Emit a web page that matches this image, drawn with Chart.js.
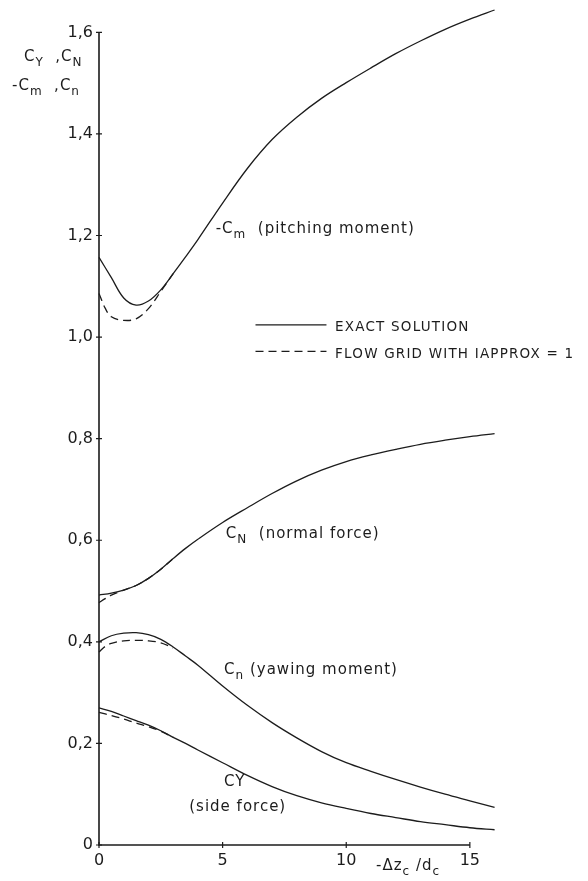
<!DOCTYPE html>
<html>
<head>
<meta charset="utf-8">
<script src="https://cdn.jsdelivr.net/npm/chart.js@4/dist/chart.umd.min.js"></script>
<style>
  html, body { margin: 0; padding: 0; background: #fff; }
  #wrap { width: 588px; height: 881px; position: relative; }
</style>
</head>
<body>
<div id="wrap"><canvas id="chart"></canvas></div>
<script>
// axis ticks
const xTicks = [0, 5, 10, 15];
const yTicks = [0, 0.2, 0.4, 0.6, 0.8, 1.0, 1.2, 1.4, 1.6];

// exact solution, -dz/d
const xExact = [0, 0.5, 1, 1.5, 2, 2.5, 3, 3.5, 4, 5, 6, 7, 8, 9, 10, 11, 12, 13, 14, 15, 16];
const cmExact = [1.157, 1.117, 1.077, 1.063, 1.071, 1.093, 1.125, 1.158, 1.192, 1.264, 1.332, 1.389, 1.433, 1.470, 1.501, 1.530, 1.558, 1.583, 1.606, 1.626, 1.644];
const cNExact = [0.492, 0.496, 0.502, 0.511, 0.525, 0.543, 0.564, 0.584, 0.602, 0.635, 0.664, 0.692, 0.717, 0.738, 0.755, 0.768, 0.779, 0.789, 0.797, 0.804, 0.810];
const cnExact = [0.400, 0.412, 0.417, 0.418, 0.414, 0.405, 0.390, 0.372, 0.354, 0.313, 0.275, 0.241, 0.211, 0.184, 0.162, 0.145, 0.129, 0.114, 0.100, 0.087, 0.074];
const cyExact = [0.270, 0.263, 0.254, 0.245, 0.236, 0.225, 0.212, 0.200, 0.187, 0.162, 0.137, 0.115, 0.097, 0.083, 0.072, 0.062, 0.054, 0.046, 0.040, 0.034, 0.030];

// flow grid with IAPPROX = 1 (only differs near the origin)
const xGrid = [0, 0.25, 0.5, 1, 1.5, 2, 2.5, 3];
const cmGrid = [1.086, 1.057, 1.040, 1.033, 1.036, 1.056, 1.090, 1.125];
const cNGrid = [0.477, 0.485, 0.492, 0.502, 0.511, 0.525, 0.543, 0.564];
const cnGrid = [0.380, 0.391, 0.397, 0.402, 0.403, 0.402, 0.398, 0.388];
const cyGrid = [0.261, 0.258, 0.255, 0.248, 0.240, 0.233, 0.224, 0.212];

const INK = '#1c1c1c';
const FONT = '"DejaVu Sans"';

function pts(xs, ys) {
    return xs.map((x, i) => ({ x: x, y: ys[i] }));
}

function line(xs, ys, dashed) {
    return {
        data: pts(xs, ys),
        borderColor: INK,
        borderWidth: 1.3,
        borderDash: dashed ? [8, 5] : [],
        pointRadius: 0,
        tension: 0.35,
        clip: false,
        fill: false
    };
}

// text with subscripts, parts = [[text, isSub], ...]
function rich(ctx, parts, x, y, size) {
    let cx = x;
    for (const [t, sub] of parts) {
        const fs = sub ? Math.round(size * 0.78) : size;
        ctx.font = fs + 'px ' + FONT;
        ctx.fillText(t, cx, y + (sub ? size * 0.4 : 0));
        cx += ctx.measureText(t).width;
    }
}

const labels = [
    { x: 4.72, y: 1.213, parts: [['-C', 0], ['m', 1], ['  (pitching moment)', 0]] },
    { x: 5.13, y: 0.613, parts: [['C', 0], ['N', 1], ['  (normal force)', 0]] },
    { x: 5.06, y: 0.344, parts: [['C', 0], ['n', 1], [' (yawing moment)', 0]] },
    { x: 5.06, y: 0.124, parts: [['CY', 0]] },
    { x: 3.65, y: 0.075, parts: [['(side force)', 0]] }
];

const legendItems = [
    { text: 'EXACT SOLUTION', dashed: false, y: 1.024 },
    { text: 'FLOW GRID WITH IAPPROX = 1', dashed: true, y: 0.972 }
];

const decorations = {
    id: 'decorations',
    afterDraw(chart) {
        const ctx = chart.ctx;
        const xs = chart.scales.x, ys = chart.scales.y;
        const x0 = xs.getPixelForValue(0), y0 = ys.getPixelForValue(0);
        ctx.save();
        ctx.strokeStyle = INK;
        ctx.fillStyle = INK;

        // axes, drawn only over the ticked range
        ctx.lineWidth = 1.6;
        ctx.beginPath();
        ctx.moveTo(x0, ys.getPixelForValue(yTicks[yTicks.length - 1]));
        ctx.lineTo(x0, y0);
        ctx.lineTo(xs.getPixelForValue(xTicks[xTicks.length - 1]), y0);
        ctx.stroke();
        ctx.lineWidth = 1.2;
        ctx.beginPath();
        yTicks.forEach(v => {
            const p = ys.getPixelForValue(v);
            ctx.moveTo(x0 - 3, p); ctx.lineTo(x0 + 3, p);
        });
        xTicks.forEach(v => {
            const p = xs.getPixelForValue(v);
            ctx.moveTo(p, y0 - 3); ctx.lineTo(p, y0 + 3);
        });
        ctx.stroke();

        // curve labels
        ctx.textBaseline = 'middle';
        ctx.letterSpacing = '1px';
        labels.forEach(l => rich(ctx, l.parts, xs.getPixelForValue(l.x), ys.getPixelForValue(l.y), 15));

        // legend
        ctx.letterSpacing = '1.2px';
        legendItems.forEach(it => {
            const py = ys.getPixelForValue(it.y);
            ctx.lineWidth = 1.3;
            ctx.setLineDash(it.dashed ? [8, 5] : []);
            ctx.beginPath();
            ctx.moveTo(xs.getPixelForValue(6.33), py);
            ctx.lineTo(xs.getPixelForValue(9.2), py);
            ctx.stroke();
            ctx.setLineDash([]);
            ctx.font = '13.5px ' + FONT;
            ctx.fillText(it.text, xs.getPixelForValue(9.55), py + 3);
        });

        // axis titles
        ctx.letterSpacing = '1px';
        rich(ctx, [['C', 0], ['Y', 1], ['  ,C', 0], ['N', 1]], 24, 57, 15);
        rich(ctx, [['-C', 0], ['m', 1], ['  ,C', 0], ['n', 1]], 12, 86, 15);
        rich(ctx, [['-\u0394z', 0], ['c', 1], [' /d', 0], ['c', 1]], 376, 866, 15);
        ctx.restore();
    }
};

new Chart(document.getElementById('chart'), {
    type: 'line',
    data: {
        datasets: [
            line(xExact, cmExact, false),
            line(xExact, cNExact, false),
            line(xExact, cnExact, false),
            line(xExact, cyExact, false),
            line(xGrid, cmGrid, true),
            line(xGrid, cNGrid, true),
            line(xGrid, cnGrid, true),
            line(xGrid, cyGrid, true)
        ]
    },
    options: {
        responsive: true,
        maintainAspectRatio: false,
        animation: false,
        layout: { padding: { top: 0, right: 86, left: 0, bottom: 0 } },
        plugins: { legend: { display: false }, tooltip: { enabled: false } },
        scales: {
            x: {
                type: 'linear', min: 0, max: 16.3,
                grid: { display: false, drawTicks: false },
                border: { display: false },
                afterBuildTicks: s => { s.ticks = xTicks.map(v => ({ value: v })); },
                afterFit: s => { s.height = 36; },
                ticks: { color: INK, padding: 6, font: { family: 'DejaVu Sans', size: 16 } }
            },
            y: {
                type: 'linear', min: 0, max: 1.633,
                grid: { display: false, drawTicks: false },
                border: { display: false },
                afterBuildTicks: s => { s.ticks = yTicks.map(v => ({ value: v })); },
                afterFit: s => { s.width = 99; },
                ticks: {
                    color: INK, padding: 6, font: { family: 'DejaVu Sans', size: 16 },
                    callback: v => v === 0 ? '0' : v.toFixed(1).replace('.', ',')
                }
            }
        }
    },
    plugins: [decorations]
});
</script>
</body>
</html>
